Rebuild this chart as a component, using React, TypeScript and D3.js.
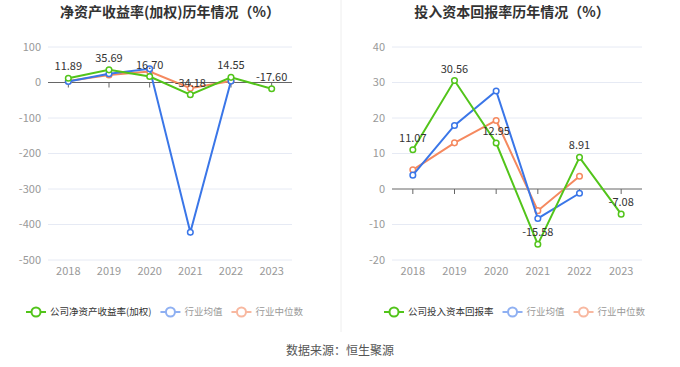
import { useEffect, useRef } from 'react';
import * as d3 from 'd3';

const years = ['2018', '2019', '2020', '2021', '2022', '2023'];

// 净资产收益率(加权)
const roeCompany = [11.89, 35.69, 16.7, -34.18, 14.55, -17.6];
const roeIndustryMean = [3, 24.5, 38.5, -422, 4, null];
const roeIndustryMedian = [4, 21, 31, -16, 4, null];
const roeTicks = [100, 0, -100, -200, -300, -400, -500];

// 投入资本回报率
const roicCompany = [11.07, 30.56, 12.95, -15.58, 8.91, -7.08];
const roicIndustryMean = [3.9, 17.9, 27.6, -8.3, -1.2, null];
const roicIndustryMedian = [5.4, 13.0, 19.3, -6.1, 3.6, null];
const roicTicks = [40, 30, 20, 10, 0, -10, -20];

const GREEN = '#52c41a';
const BLUE = '#3a76e8';
const ORANGE = '#f5895f';
const FONT = '"Noto Sans CJK SC", "Noto Sans", sans-serif';

interface PanelSpec {
  title: string;
  cx: number;
  x0: number;
  x1: number;
  ticks: number[];
  company: (number | null)[];
  mean: (number | null)[];
  median: (number | null)[];
  legendName: string;
  legendX: number;
}

const panels: PanelSpec[] = [
  {
    title: '净资产收益率(加权)历年情况（%）',
    cx: 170, x0: 48, x1: 292,
    ticks: roeTicks,
    company: roeCompany, mean: roeIndustryMean, median: roeIndustryMedian,
    legendName: '公司净资产收益率(加权)', legendX: 26,
  },
  {
    title: '投入资本回报率历年情况（%）',
    cx: 512, x0: 392, x1: 642,
    ticks: roicTicks,
    company: roicCompany, mean: roicIndustryMean, median: roicIndustryMedian,
    legendName: '公司投入资本回报率', legendX: 384,
  },
];

export default function App() {
  const svgRef = useRef<SVGSVGElement>(null);

  useEffect(() => {
    if (!svgRef.current) return;
    const svg = d3.select(svgRef.current);
    svg.selectAll('*').remove();

    svg.append('rect').attr('width', 680).attr('height', 367).attr('fill', '#fff');

    // divider
    svg.append('line')
      .attr('x1', 341).attr('x2', 341).attr('y1', 0).attr('y2', 332)
      .attr('stroke', '#eeeeee').attr('stroke-width', 1);

    panels.forEach(p => {
      const g = svg.append('g');
      const x = d3.scaleBand<string>().domain(years).range([p.x0, p.x1]);
      const y = d3.scaleLinear()
        .domain([d3.min(p.ticks)!, d3.max(p.ticks)!])
        .range([260, 47]);
      const cxOf = (i: number) => x(years[i])! + x.bandwidth() / 2;

      g.append('text')
        .attr('x', p.cx).attr('y', 17)
        .attr('text-anchor', 'middle')
        .style('font-family', FONT)
        .style('font-size', '14px')
        .style('font-weight', 'bold')
        .style('fill', '#333')
        .text(p.title);

      // grid + y labels
      p.ticks.forEach(t => {
        if (t !== 0) {
          g.append('line')
            .attr('x1', p.x0).attr('x2', p.x1)
            .attr('y1', y(t)).attr('y2', y(t))
            .attr('stroke', '#e6eaf4').attr('stroke-width', 1);
        }
        g.append('text')
          .attr('x', p.x0 - 7).attr('y', y(t))
          .attr('dy', '0.35em')
          .attr('text-anchor', 'end')
          .style('font-family', FONT)
          .style('font-size', '11px')
          .style('fill', '#999')
          .text(t);
      });

      // zero axis
      g.append('line')
        .attr('x1', p.x0).attr('x2', p.x1)
        .attr('y1', y(0)).attr('y2', y(0))
        .attr('stroke', '#666').attr('stroke-width', 1);
      years.forEach((yr, i) => {
        g.append('line')
          .attr('x1', cxOf(i)).attr('x2', cxOf(i))
          .attr('y1', y(0)).attr('y2', y(0) + 5)
          .attr('stroke', '#666').attr('stroke-width', 1);
        g.append('text')
          .attr('x', cxOf(i)).attr('y', 271)
          .attr('dy', '0.35em')
          .attr('text-anchor', 'middle')
          .style('font-family', FONT)
          .style('font-size', '11px')
          .style('fill', '#999')
          .text(yr);
      });

      const line = d3.line<number | null>()
        .defined(d => d !== null)
        .x((_, i) => cxOf(i))
        .y(d => y(d as number));

      const drawSeries = (vals: (number | null)[], color: string) => {
        g.append('path')
          .attr('d', line(vals))
          .attr('fill', 'none')
          .attr('stroke', color)
          .attr('stroke-width', 2);
        vals.forEach((v, i) => {
          if (v === null) return;
          g.append('circle')
            .attr('cx', cxOf(i)).attr('cy', y(v)).attr('r', 2.8)
            .attr('fill', '#fff').attr('stroke', color).attr('stroke-width', 1.5);
        });
      };

      drawSeries(p.median, ORANGE);
      drawSeries(p.mean, BLUE);
      drawSeries(p.company, GREEN);

      p.company.forEach((v, i) => {
        if (v === null) return;
        g.append('text')
          .attr('x', cxOf(i)).attr('y', y(v) - 8)
          .attr('text-anchor', 'middle')
          .style('font-family', FONT)
          .style('font-size', '11px')
          .style('fill', '#333')
          .text(v.toFixed(2));
      });

      // legend
      const items = [
        { name: p.legendName, color: GREEN, text: '#333' },
        { name: '行业均值', color: '#8fb0f2', text: '#999' },
        { name: '行业中位数', color: '#f8b8a0', text: '#999' },
      ];
      let lx = p.legendX;
      items.forEach(it => {
        const lg = g.append('g');
        lg.append('line')
          .attr('x1', lx).attr('x2', lx + 20)
          .attr('y1', 312).attr('y2', 312)
          .attr('stroke', it.color).attr('stroke-width', 2);
        lg.append('circle')
          .attr('cx', lx + 10).attr('cy', 312).attr('r', 4.5)
          .attr('fill', '#fff').attr('stroke', it.color).attr('stroke-width', 2);
        const t = lg.append('text')
          .attr('x', lx + 24).attr('y', 312)
          .attr('dy', '0.35em')
          .style('font-family', FONT)
          .style('font-size', '9.5px')
          .style('fill', it.text)
          .text(it.name);
        const w = (t.node() as SVGTextElement).getComputedTextLength();
        lx += 24 + w + 9;
      });
    });

    svg.append('text')
      .attr('x', 340).attr('y', 351)
      .attr('dy', '0.35em')
      .attr('text-anchor', 'middle')
      .style('font-family', FONT)
      .style('font-size', '12px')
      .style('fill', '#555')
      .text('数据来源：恒生聚源');
  }, []);

  return (
    <div style={{ position: 'absolute', left: 0, top: 0 }}>
      <svg ref={svgRef} width={680} height={367} style={{ display: 'block' }} />
    </div>
  );
}
